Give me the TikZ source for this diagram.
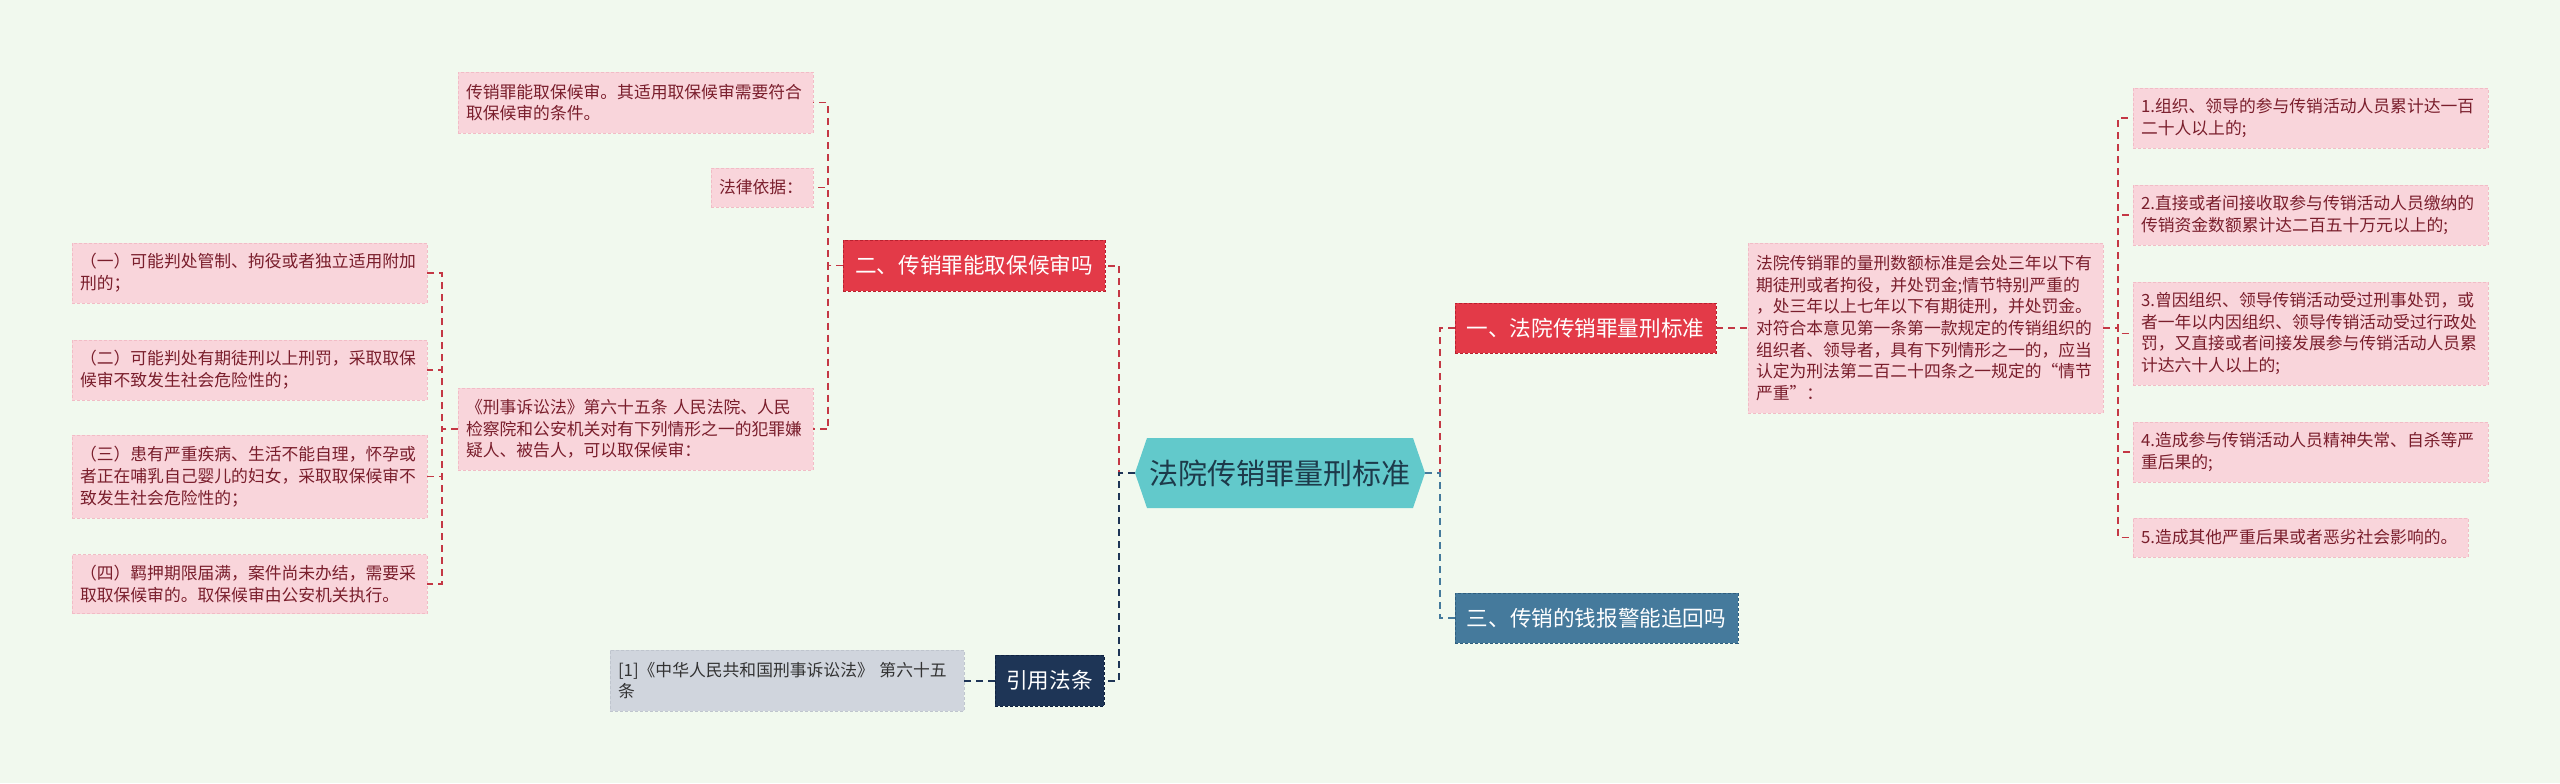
\documentclass[tikz,border=0pt]{standalone}
\usepackage{fontspec}
\setmainfont{Noto Sans CJK SC}
\usepackage{xcolor}
\usepackage{tikz}
\usetikzlibrary{shapes,arrows,positioning,backgrounds}

\definecolor{bgcol}{HTML}{F1F9EE}
\definecolor{pinkfill}{HTML}{F9D5DB}
\definecolor{pinkedge}{HTML}{F2BCC6}
\definecolor{pinktext}{HTML}{7A1E2C}
\definecolor{redfill}{HTML}{E33A48}
\definecolor{rededge}{HTML}{B9202E}
\definecolor{bluefill}{HTML}{457A9C}
\definecolor{blueedge}{HTML}{2E5E7E}
\definecolor{navyfill}{HTML}{1E3556}
\definecolor{navyedge}{HTML}{0F2240}
\definecolor{grayfill}{HTML}{D0D5DD}
\definecolor{grayedge}{HTML}{BFC5CE}
\definecolor{hexfill}{HTML}{62C9CB}
\definecolor{hextext}{HTML}{1D3A4A}
\definecolor{linkred}{HTML}{C43845}

\begin{document}
\begin{tikzpicture}[
    x=0.5pt, y=-0.5pt,
    every node/.style={outer sep=0pt},
    pinkbox/.style={rectangle, draw=pinkedge, dash pattern=on 1.5pt off 1pt, fill=pinkfill, text=pinktext, align=left, inner xsep=4pt, inner ysep=2pt, font=\fontsize{8.4}{10.85}\selectfont},
    graybox/.style={pinkbox, draw=grayedge, fill=grayfill, text=black!80},
    headbox/.style={rectangle, dash pattern=on 1.5pt off 1pt, inner sep=0pt, minimum height=25pt, text=white, font=\fontsize{10.8}{12}\selectfont},
    redbox/.style={headbox, draw=rededge, fill=redfill},
    bluebox/.style={headbox, draw=blueedge, fill=bluefill},
    navybox/.style={headbox, draw=navyedge, fill=navyfill},
    hexbox/.style={rectangle, inner sep=0pt, minimum width=145pt, minimum height=35pt, text=hextext, font=\fontsize{14.5}{16}\selectfont},
    link/.style={dash pattern=on 3.5pt off 2.5pt, line width=0.8pt},
    redlink/.style={link, draw=linkred},
    navylink/.style={link, draw=navyfill, line width=1pt},
    bluelink/.style={link, draw=bluefill, line width=1pt}
]
\useasboundingbox (0,0) rectangle (2560,783);

% Root
\node[hexbox] (hex) at (1280,473) {法院传销罪量刑标准};

% Left branch: bail
\node[redbox, minimum width=131pt, minimum height=25.5pt] (er) at (974,265.5) {二、传销罪能取保候审吗};
\node[pinkbox, text width=169.5pt, minimum height=30.5pt] (cond) at (635.5,102.5) {传销罪能取保候审。其适用取保候审需要符合\\取保候审的条件。};
\node[pinkbox, text width=43pt, minimum height=19.5pt] (law) at (762,187.5) {法律依据：};
\node[pinkbox, text width=169.5pt, minimum height=41pt] (art) at (635.5,429) {《刑事诉讼法》第六十五条 人民法院、人民\\检察院和公安机关对有下列情形之一的犯罪嫌\\疑人、被告人，可以取保候审：};

% Cases (一)-(四)
\node[pinkbox, text width=169.5pt, minimum height=30pt] (c1) at (249.5,273) {（一）可能判处管制、拘役或者独立适用附加\\刑的；};
\node[pinkbox, text width=169.5pt, minimum height=30pt] (c2) at (249.5,370) {（二）可能判处有期徒刑以上刑罚，采取取保\\候审不致发生社会危险性的；};
\node[pinkbox, text width=169.5pt, minimum height=41.5pt] (c3) at (249.5,476.5) {（三）患有严重疾病、生活不能自理，怀孕或\\者正在哺乳自己婴儿的妇女，采取取保候审不\\致发生社会危险性的；};
\node[pinkbox, text width=169.5pt, minimum height=29.5pt] (c4) at (249.5,584) {（四）羁押期限届满，案件尚未办结，需要采\\取取保候审的。取保候审由公安机关执行。};

% Cited law
\node[navybox, minimum width=54.5pt, minimum height=25.5pt] (yin) at (1049.5,680.5) {引用法条};
\node[graybox, text width=169pt, minimum height=30.5pt] (cite) at (787,680.5) {[1]《中华人民共和国刑事诉讼法》 第六十五\\条};

% Right branch: sentencing
\node[redbox, minimum width=130.5pt] (yi) at (1585.5,328) {一、法院传销罪量刑标准};
\node[pinkbox, text width=169.5pt, minimum height=85pt] (para) at (1925.5,328) {法院传销罪的量刑数额标准是会处三年以下有\\期徒刑或者拘役，并处罚金;情节特别严重的\\，处三年以上七年以下有期徒刑，并处罚金。\\对符合本意见第一条第一款规定的传销组织的\\组织者、领导者，具有下列情形之一的，应当\\认定为刑法第二百二十四条之一规定的“情节\\严重”：};
\node[pinkbox, text width=169.5pt, minimum height=30pt] (r1) at (2310.5,118) {1.组织、领导的参与传销活动人员累计达一百\\二十人以上的;};
\node[pinkbox, text width=169.5pt, minimum height=30pt] (r2) at (2310.5,215) {2.直接或者间接收取参与传销活动人员缴纳的\\传销资金数额累计达二百五十万元以上的;};
\node[pinkbox, text width=169.5pt, minimum height=51.5pt] (r3) at (2310.5,333.5) {3.曾因组织、领导传销活动受过刑事处罚，或\\者一年以内因组织、领导传销活动受过行政处\\罚，又直接或者间接发展参与传销活动人员累\\计达六十人以上的;};
\node[pinkbox, text width=169.5pt, minimum height=30pt] (r4) at (2310.5,452) {4.造成参与传销活动人员精神失常、自杀等严\\重后果的;};
\node[pinkbox, text width=159.5pt, minimum height=19.5pt] (r5) at (2300.5,537.5) {5.造成其他严重后果或者恶劣社会影响的。};

% Money recovery
\node[bluebox, minimum width=141.5pt] (san) at (1596.5,618) {三、传销的钱报警能追回吗};

% Background and root shape
\begin{scope}[on background layer]
\fill[bgcol] (0,0) rectangle (2560,783);
\fill[hexfill] (hex.west) -- ([xshift=6pt]hex.north west) -- ([xshift=-6pt]hex.north east) -- (hex.east) -- ([xshift=-6pt]hex.south east) -- ([xshift=6pt]hex.south west) -- cycle;
\end{scope}

% Connections
\draw[redlink, line width=1pt] (hex.west) -- ++(-16,0) |- (er.east);
\draw[navylink] (hex.west) -- ++(-16,0) |- (yin.east);
\draw[navylink] (yin.west) -- (cite.east);
\draw[redlink, line width=1pt] (hex.east) -- ++(15,0) |- (yi.west);
\draw[bluelink] (hex.east) -- ++(15,0) |- (san.west);

\foreach \n in {cond,law,art}
    \draw[redlink] (er.west) -- ++(-15,0) |- (\n.east);
\foreach \n in {c1,c2,c3,c4}
    \draw[redlink] (art.west) -- ++(-16,0) |- (\n.east);

\draw[redlink] (yi.east) -- (para.west);
\foreach \i in {1,...,5}
    \draw[redlink] (para.east) -- ++(15,0) |- (r\i.west);

\end{tikzpicture}
\end{document}
